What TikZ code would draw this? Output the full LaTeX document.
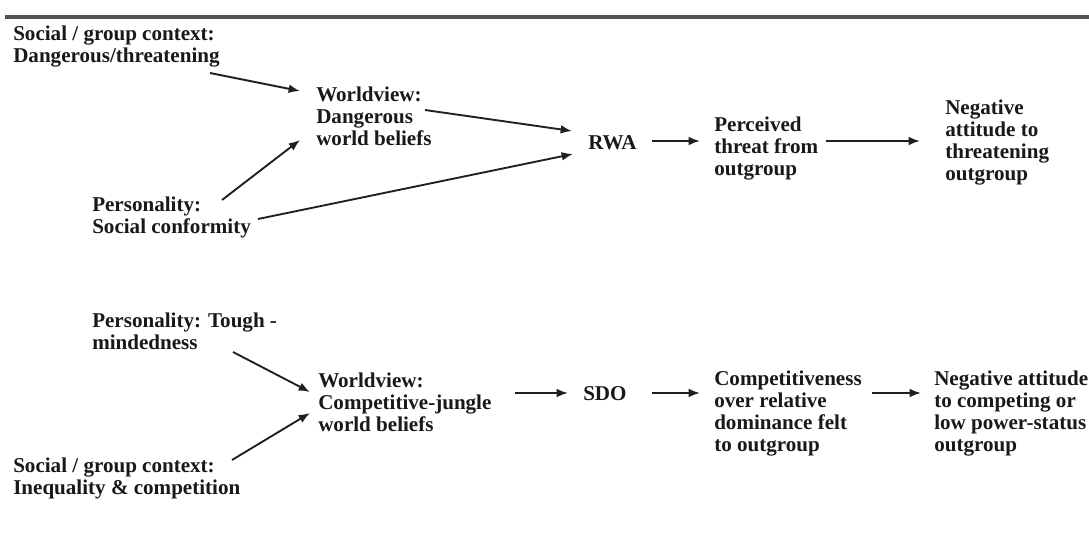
\documentclass[tikz,border=0pt]{standalone}
\usepackage{fontspec}
\setmainfont{Liberation Serif}
\usetikzlibrary{arrows.meta,calc}
\begin{document}
\begin{tikzpicture}[x=0.75pt,y=-0.75pt,
  lbl/.style={anchor=west,inner sep=0pt,align=left,
    font=\bfseries\fontsize{15.8}{16.5}\selectfont,text=black!90},
  arr/.style={-{Latex[length=8.5pt,width=6.5pt]},line width=1.4pt,draw=black!88},
  rulestyle/.style={line width=2.6pt,draw=black!68}]
\useasboundingbox (0,0) rectangle (1089,535);
\fill[white] (0,0) rectangle (1089,535);

% heading rule
\coordinate (ruleL) at (5,17);
\coordinate (ruleR) at (1089,17);
\draw[rulestyle] (ruleL) -- (ruleR);

% upper path: RWA
\node[lbl] (a1) at (13,47) {Social / group context:\\Dangerous/threatening};
\node[lbl] (p1) at (92,217) {Personality:\\Social conformity};
\node[lbl] (w1) at (316,116) {Worldview:\\Dangerous\\world beliefs};
\node[lbl] (rwa) at (588,143) {RWA};
\node[lbl] (pt) at (714,149) {Perceived\\threat from\\outgroup};
\node[lbl] (na) at (945,143) {Negative\\attitude to\\threatening\\outgroup};

\draw[arr] ($(a1.west)+(197,26)$) -- ($(w1.west)+(-16,-25)$);
\draw[arr] ($(p1.west)+(130,-17)$) -- ($(w1.west)+(-16,24)$);
\draw[arr] ($(w1.west)+(109,-6)$) -- ($(rwa.west)+(-16,-12)$);
\draw[arr] ($(p1.west)+(166,2)$) -- ($(rwa.west)+(-15,11)$);
\draw[arr] ($(rwa.west)+(64,-2)$) -- ($(pt.west)+(-14,-8)$);
\draw[arr] ($(pt.west)+(112,-8)$) -- ($(na.west)+(-25,-2)$);

% lower path: SDO
\node[lbl] (p2) at (92,331) {Personality: Tough -\\mindedness};
\node[lbl] (a2) at (13,478) {Social / group context:\\Inequality \& competition};
\node[lbl] (w2) at (318,402) {Worldview:\\Competitive-jungle\\world beliefs};
\node[lbl] (sdo) at (583,394) {SDO};
\node[lbl] (cp) at (714,414) {Competitiveness\\over relative\\dominance felt\\to outgroup};
\node[lbl] (nb) at (934,414) {Negative attitude\\to competing or\\low power-status\\outgroup};

\draw[arr] ($(p2.west)+(141,21)$) -- ($(w2.west)+(-8,-10)$);
\draw[arr] ($(a2.west)+(219,-18)$) -- ($(w2.west)+(-8,11)$);
\draw[arr] ($(w2.west)+(197,-9)$) -- ($(sdo.west)+(-15,-1)$);
\draw[arr] ($(sdo.west)+(69,-1)$) -- ($(cp.west)+(-14,-21)$);
\draw[arr] ($(cp.west)+(158,-21)$) -- ($(nb.west)+(-13,-21)$);
\end{tikzpicture}
\end{document}
